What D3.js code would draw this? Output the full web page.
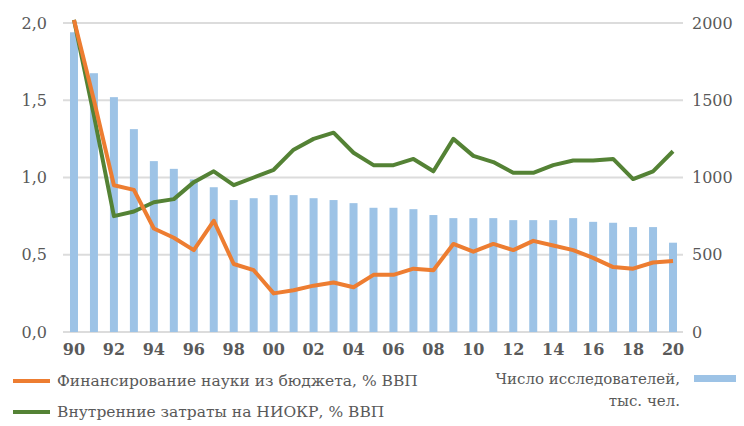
<!DOCTYPE html>
<html>
<head>
<meta charset="utf-8">
<script src="https://cdn.jsdelivr.net/npm/d3@7"></script>
<style>
  body { margin: 0; background: #fff; }
  text { font-family: "DejaVu Serif", serif; fill: #595959; }
</style>
</head>
<body>
<div id="chart"></div>
<script>
// годы 1990-2020
var years = d3.range(1990, 2021);

// Финансирование науки из бюджета, % ВВП
var budget = [2.02, 1.50, 0.95, 0.92, 0.67, 0.61, 0.53, 0.72, 0.44, 0.40,
              0.25, 0.27, 0.30, 0.32, 0.29, 0.37, 0.37, 0.41, 0.40, 0.57,
              0.52, 0.57, 0.53, 0.59, 0.56, 0.53, 0.48, 0.42, 0.41, 0.45, 0.46];

// Внутренние затраты на НИОКР, % ВВП
var rnd = [2.02, 1.40, 0.75, 0.78, 0.84, 0.86, 0.97, 1.04, 0.95, 1.00,
           1.05, 1.18, 1.25, 1.29, 1.16, 1.08, 1.08, 1.12, 1.04, 1.25,
           1.14, 1.10, 1.03, 1.03, 1.08, 1.11, 1.11, 1.12, 0.99, 1.04, 1.17];

// Число исследователей, тыс. чел.
var researchers = [1940, 1675, 1520, 1313, 1106, 1056, 988, 937, 854, 866,
                   886, 886, 866, 854, 834, 804, 804, 795, 757, 737,
                   737, 737, 724, 724, 724, 737, 713, 707, 679, 679, 578];

var leftTicks = [0, 0.5, 1.0, 1.5, 2.0];
var rightTicks = [0, 500, 1000, 1500, 2000];

var W = 744, H = 426;
var margin = {top: 23, right: 61, bottom: 94, left: 64};
var width = W - margin.left - margin.right,
    height = H - margin.top - margin.bottom;

var svg = d3.select("#chart").append("svg")
  .attr("width", W)
  .attr("height", H);

var g = svg.append("g")
  .attr("transform", "translate(" + margin.left + "," + margin.top + ")");

var x = d3.scaleBand()
  .domain(years)
  .range([0, width])
  .paddingInner(0.6)
  .paddingOuter(0.3);

var yL = d3.scaleLinear().domain([0, 2]).range([height, 0]);
var yR = d3.scaleLinear().domain([0, 2000]).range([height, 0]);

// сетка
g.selectAll(".grid")
  .data(leftTicks)
  .enter().append("line")
  .attr("x1", -1)
  .attr("x2", width)
  .attr("y1", function(d) { return yL(d); })
  .attr("y2", function(d) { return yL(d); })
  .attr("stroke", "#dcdcdc")
  .attr("stroke-width", 2);

// столбики
g.selectAll(".bar")
  .data(years)
  .enter().append("rect")
  .attr("x", function(d) { return x(d); })
  .attr("width", x.bandwidth())
  .attr("y", function(d, i) { return yR(researchers[i]); })
  .attr("height", function(d, i) { return height - yR(researchers[i]); })
  .attr("fill", "#9dc3e6");

var cx = function(d, i) { return x(years[i]) + x.bandwidth() / 2; };

g.append("path")
  .datum(rnd)
  .attr("fill", "none")
  .attr("stroke", "#548235")
  .attr("stroke-width", 4)
  .attr("stroke-linejoin", "round")
  .attr("d", d3.line().x(cx).y(function(d) { return yL(d); }));

g.append("path")
  .datum(budget)
  .attr("fill", "none")
  .attr("stroke", "#ed7d31")
  .attr("stroke-width", 4)
  .attr("stroke-linejoin", "round")
  .attr("d", d3.line().x(cx).y(function(d) { return yL(d); }));

// оси
var fmt = function(d) { return d3.format(".1f")(d).replace(".", ","); };

var axL = g.append("g")
  .call(d3.axisLeft(yL).tickValues(leftTicks).tickFormat(fmt).tickSize(0).tickPadding(17));
axL.select(".domain").remove();

var axR = g.append("g")
  .attr("transform", "translate(" + width + ",0)")
  .call(d3.axisRight(yR).tickValues(rightTicks).tickFormat(d3.format("d")).tickSize(0).tickPadding(9));
axR.select(".domain").remove();

var axB = g.append("g")
  .attr("transform", "translate(0," + height + ")")
  .call(d3.axisBottom(x)
    .tickValues(years.filter(function(d) { return d % 2 === 0; }))
    .tickFormat(function(d) { return d3.format("02")(d % 100); })
    .tickSize(0).tickPadding(12));
axB.select(".domain").remove();

svg.selectAll(".tick text")
  .style("font-size", "16px")
  .style("font-family", "'DejaVu Serif', serif")
  .attr("fill", "#595959");
axB.selectAll(".tick text").style("font-weight", "bold").attr("fill", "#4a4a4a");

// легенда
var legend = svg.append("g");
var lgItems = [
  {name: "Финансирование науки из бюджета, % ВВП", color: "#ed7d31", y: 381},
  {name: "Внутренние затраты на НИОКР, % ВВП", color: "#548235", y: 412}
];
lgItems.forEach(function(d) {
  legend.append("line")
    .attr("x1", 13).attr("x2", 50)
    .attr("y1", d.y).attr("y2", d.y)
    .attr("stroke", d.color)
    .attr("stroke-width", 4);
  legend.append("text")
    .attr("x", 57).attr("y", d.y)
    .attr("dy", "0.35em")
    .style("font-size", "15.5px")
    .text(d.name);
});

legend.append("rect")
  .attr("x", 694).attr("y", 375)
  .attr("width", 42).attr("height", 7)
  .attr("fill", "#9dc3e6");
legend.append("text")
  .attr("x", 680).attr("y", 379)
  .attr("dy", "0.35em")
  .attr("text-anchor", "end")
  .style("font-size", "15px")
  .text("Число исследователей,");
legend.append("text")
  .attr("x", 680).attr("y", 401)
  .attr("dy", "0.35em")
  .attr("text-anchor", "end")
  .style("font-size", "15px")
  .text("тыс. чел.");
</script>
</body>
</html>
